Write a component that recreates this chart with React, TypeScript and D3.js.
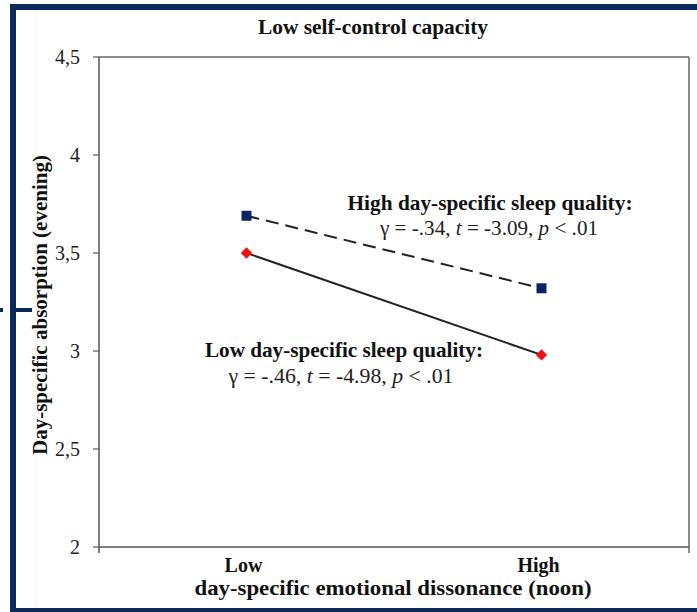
import React from "react";
import * as d3 from "d3";

const categories = ["Low", "High"];
const highSleep = [3.69, 3.32];
const lowSleep = [3.5, 2.98];
const yTicks = [2, 2.5, 3, 3.5, 4, 4.5];

const W = 697;
const H = 612;
const margin = { top: 57, right: 8, bottom: 65, left: 99 };
const font = "'Liberation Serif', 'Times New Roman', serif";
const navy = "#0b2a5a";

const fmt = (v: number) => String(v).replace(".", ",");

const App = () => {
  const x = d3
    .scaleBand()
    .domain(categories)
    .range([margin.left, W - margin.right]);
  const y = d3
    .scaleLinear()
    .domain([2, 4.5])
    .range([H - margin.bottom, margin.top]);

  const cx = (c: string) => (x(c) ?? 0) + x.bandwidth() / 2;
  const line = d3
    .line<number>()
    .x((_, i) => cx(categories[i]))
    .y((d) => y(d));

  const x0 = margin.left;
  const x1 = W - margin.right;
  const y0 = H - margin.bottom;
  const y1 = margin.top;

  return (
    <svg
      width={W}
      height={H}
      style={{ position: "absolute", left: 0, top: 0, background: "#fff" }}
      fontFamily={font}
    >
      {/* navy frame */}
      <rect x={10} y={4} width={W - 10} height={6} fill={navy} />
      <rect x={10} y={4} width={6} height={H - 4} fill={navy} />
      <rect x={10} y={608} width={W - 10} height={4} fill={navy} />
      <rect x={16} y={308} width={16} height={4} fill={navy} />
      <rect x={0} y={308} width={3} height={4} fill={navy} />
      <line x1={36} x2={36} y1={10} y2={608} stroke="#f0f0f0" />

      {/* plot box */}
      <line x1={x0} x2={x1} y1={y1} y2={y1} stroke="#666" strokeWidth={1.5} />
      <line x1={x1} x2={x1} y1={y1} y2={y0 + 6} stroke="#666" strokeWidth={1.5} />
      <line x1={x0} x2={x0} y1={y1} y2={y0 + 6} stroke="#555" strokeWidth={1.5} />
      <line x1={x0} x2={x1} y1={y0} y2={y0} stroke="#555" strokeWidth={1.5} />

      {yTicks.map((t) => (
        <g key={t}>
          <line x1={x0 - 6} x2={x0} y1={y(t)} y2={y(t)} stroke="#555" strokeWidth={1.2} />
          <text x={80} y={y(t) + 7} textAnchor="end" fontSize={20} fill="#222">
            {fmt(t)}
          </text>
        </g>
      ))}

      {categories.map((c) => (
        <text
          key={c}
          x={cx(c) - 3}
          y={572}
          textAnchor="middle"
          fontSize={20}
          fontWeight="bold"
          fill="#111"
        >
          {c}
        </text>
      ))}

      <text x={373} y={34} textAnchor="middle" fontSize={21} fontWeight="bold" fill="#111"
        textLength={230} lengthAdjust="spacingAndGlyphs">
        Low self-control capacity
      </text>
      <text x={393} y={595} textAnchor="middle" fontSize={20} fontWeight="bold" fill="#111"
        textLength={397} lengthAdjust="spacingAndGlyphs">
        day-specific emotional dissonance (noon)
      </text>
      <text
        transform={`translate(47,${(y0 + y1) / 2 + 3}) rotate(-90)`}
        textAnchor="middle"
        fontSize={21}
        fontWeight="bold"
        fill="#111"
        textLength={300}
        lengthAdjust="spacingAndGlyphs"
      >
        Day-specific absorption (evening)
      </text>

      {/* lines */}
      <path d={line(highSleep) ?? ""} fill="none" stroke="#222" strokeWidth={2} strokeDasharray="13,7" />
      <path d={line(lowSleep) ?? ""} fill="none" stroke="#222" strokeWidth={2} />

      {highSleep.map((v, i) => (
        <rect
          key={i}
          x={cx(categories[i]) - 5}
          y={y(v) - 5}
          width={10}
          height={10}
          fill="#0b2466"
        />
      ))}
      {lowSleep.map((v, i) => (
        <rect
          key={i}
          x={-4}
          y={-4}
          width={8}
          height={8}
          fill="#f01010"
          transform={`translate(${cx(categories[i])},${y(v)}) rotate(45)`}
        />
      ))}

      {/* annotations */}
      <text x={490} y={210} textAnchor="middle" fontSize={21} fontWeight="bold" fill="#111"
        textLength={285} lengthAdjust="spacingAndGlyphs">
        High day-specific sleep quality:
      </text>
      <text x={489} y={235} textAnchor="middle" fontSize={21} fill="#222"
        textLength={218} lengthAdjust="spacingAndGlyphs">
        γ = -.34, <tspan fontStyle="italic">t</tspan> = -3.09, <tspan fontStyle="italic">p</tspan> &lt; .01
      </text>
      <text x={344} y={357} textAnchor="middle" fontSize={21} fontWeight="bold" fill="#111"
        textLength={278} lengthAdjust="spacingAndGlyphs">
        Low day-specific sleep quality:
      </text>
      <text x={341} y={383} textAnchor="middle" fontSize={21} fill="#222"
        textLength={225} lengthAdjust="spacingAndGlyphs">
        γ = -.46, <tspan fontStyle="italic">t</tspan> = -4.98, <tspan fontStyle="italic">p</tspan> &lt; .01
      </text>
    </svg>
  );
};

export default App;
